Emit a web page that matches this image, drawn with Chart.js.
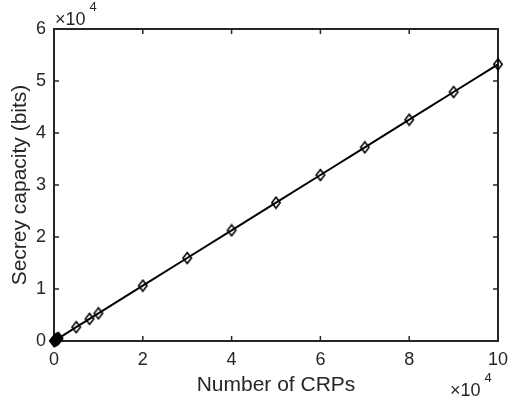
<!DOCTYPE html>
<html><head><meta charset="utf-8">
<script src="https://cdn.jsdelivr.net/npm/chart.js@4/dist/chart.umd.min.js"></script>
<style>html,body{margin:0;padding:0;background:#fff;}#wrap{width:513px;height:402px;}</style>
</head><body><div id="wrap"><canvas id="c" width="513" height="402"></canvas></div>
<script>
const crps = [0, 100, 200, 300, 400, 500, 600, 700, 800, 900, 1000, 5000, 8000, 10000, 20000, 30000, 40000, 50000, 60000, 70000, 80000, 90000, 100000];
const capacity = [0, 53, 106, 160, 213, 266, 319, 372, 426, 479, 532, 2660, 4256, 5320, 10640, 15960, 21280, 26600, 31920, 37240, 42560, 47880, 53200];
const xTicks = [0, 2, 4, 6, 8, 10];
const yTicks = [0, 1, 2, 3, 4, 5, 6];
const xLabel = 'Number of CRPs';
const yLabel = 'Secrey capacity (bits)';
const expText = '×10';
const expPow = '4';

const FONT = '"Liberation Sans", Arial, Helvetica, sans-serif';
const axisColor = '#262626';

const marker = document.createElement('canvas');
marker.width = 12; marker.height = 14;
(function () {
  const m = marker.getContext('2d');
  m.strokeStyle = '#000';
  m.lineWidth = 1.6;
  m.beginPath();
  m.moveTo(6, 1.5); m.lineTo(10.2, 7); m.lineTo(6, 12.5); m.lineTo(1.8, 7); m.closePath();
  m.stroke();
})();

const framePlugin = {
  id: 'frame',
  beforeDatasetsDraw(chart) {
    const {ctx, chartArea: a, scales: {x, y}} = chart;
    ctx.save();
    ctx.strokeStyle = axisColor;
    ctx.lineWidth = 2;
    ctx.strokeRect(a.left, a.top, a.right - a.left, a.bottom - a.top);
    const t = 5;
    ctx.lineWidth = 1.5;
    ctx.beginPath();
    xTicks.forEach(v => {
      const px = x.getPixelForValue(v * 1e4);
      ctx.moveTo(px, a.bottom); ctx.lineTo(px, a.bottom - t);
      ctx.moveTo(px, a.top); ctx.lineTo(px, a.top + t);
    });
    yTicks.forEach(v => {
      const py = y.getPixelForValue(v * 1e4);
      ctx.moveTo(a.left, py); ctx.lineTo(a.left + t, py);
      ctx.moveTo(a.right, py); ctx.lineTo(a.right - t, py);
    });
    ctx.stroke();
    ctx.fillStyle = axisColor;
    ctx.textBaseline = 'alphabetic';
    ctx.textAlign = 'left';
    ctx.font = '18px ' + FONT;
    const w = ctx.measureText(expText).width;
    ctx.fillText(expText, a.left + 1, a.top - 4);
    const bx = 450;
    ctx.fillText(expText, bx, 396);
    ctx.font = '13px ' + FONT;
    ctx.fillText(expPow, a.left + 1 + w + 4, a.top - 18);
    ctx.fillText(expPow, bx + w + 4, 382);
    ctx.restore();
  }
};

new Chart(document.getElementById('c'), {
  type: 'scatter',
  data: {
    datasets: [{
      data: crps.map((v, i) => ({x: v, y: capacity[i]})),
      showLine: true,
      clip: false,
      borderColor: '#000',
      borderWidth: 2,
      pointStyle: marker,
      pointRadius: 5,
      pointHoverRadius: 5
    }]
  },
  options: {
    responsive: false,
    animation: false,
    events: [],
    layout: {padding: {top: 29, right: 15, left: 0, bottom: 0}},
    plugins: {legend: {display: false}, tooltip: {enabled: false}},
    scales: {
      x: {
        type: 'linear', min: 0, max: 100000,
        afterBuildTicks: s => { s.ticks = xTicks.map(v => ({value: v * 1e4})); },
        afterFit: s => { s.height = 61; s.paddingLeft = 0; s.paddingRight = 0; },
        grid: {display: false, drawTicks: false},
        border: {display: false},
        ticks: {color: axisColor, font: {family: FONT, size: 18}, padding: 8, maxRotation: 0,
          callback: v => String(v / 1e4)},
        title: {display: true, text: xLabel, color: axisColor, font: {family: FONT, size: 21}, padding: {top: 0, bottom: 4}}
      },
      y: {
        type: 'linear', min: 0, max: 60000,
        afterBuildTicks: s => { s.ticks = yTicks.map(v => ({value: v * 1e4})); },
        afterFit: s => { s.width = 54; s.paddingTop = 0; s.paddingBottom = 0; },
        grid: {display: false, drawTicks: false},
        border: {display: false},
        ticks: {color: axisColor, font: {family: FONT, size: 18}, padding: 8,
          callback: v => String(v / 1e4)},
        title: {display: true, text: yLabel, color: axisColor, font: {family: FONT, size: 21}, padding: {top: 8, bottom: 0}}
      }
    }
  },
  plugins: [framePlugin]
});
</script>
</body></html>
